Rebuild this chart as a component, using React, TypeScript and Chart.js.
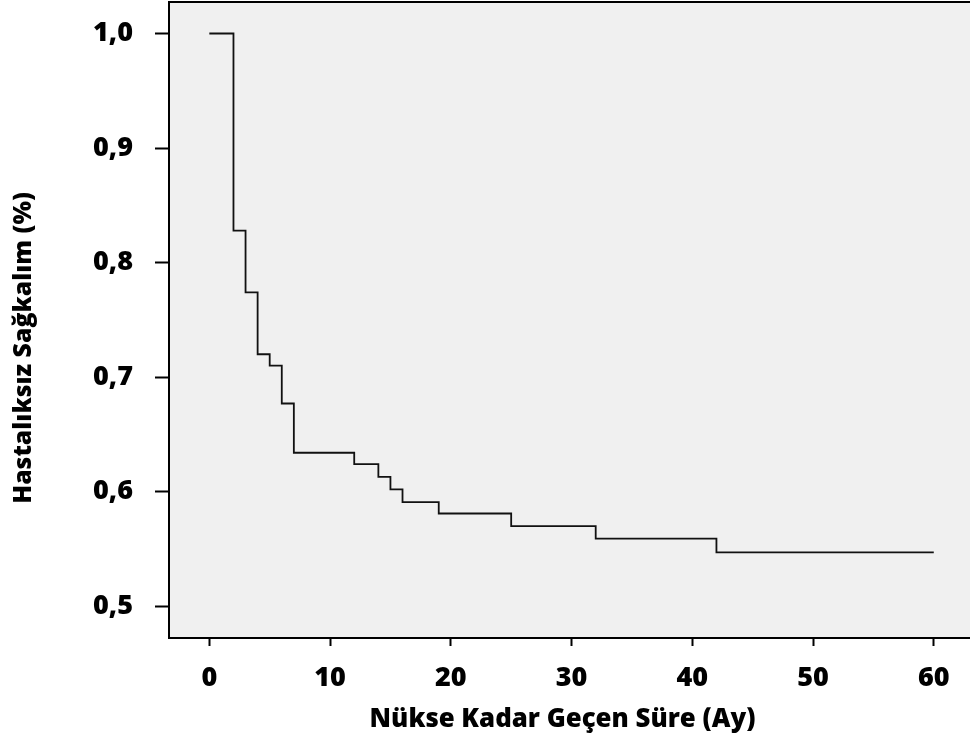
import { useEffect, useRef } from "react";
import { Chart, registerables } from "chart.js";

Chart.register(...registerables);

// Kaplan–Meier estimate: event times (months) and survival proportion after each event
const months = [0, 2, 3, 4, 5, 6, 7, 12, 14, 15, 16, 19, 25, 32, 42, 60];
const survival = [1.0, 0.828, 0.774, 0.72, 0.71, 0.677, 0.634, 0.624, 0.613, 0.602, 0.591, 0.581, 0.57, 0.559, 0.547, 0.547];

const xTicks = [0, 10, 20, 30, 40, 50, 60];
const yTicks = [0.5, 0.6, 0.7, 0.8, 0.9, 1.0];

const xTitle = "Nükse Kadar Geçen Süre (Ay)";
const yTitle = "Hastalıksız Sağkalım (%)";

const FONT_FAMILY = "'Open Sans', Lato, sans-serif";
const FONT_WEIGHT = 800;
const TICK_SIZE = 27;
const X_TITLE_SIZE = 25.8;
const Y_TITLE_SIZE = 24.8;

// Grey plot background plus a frame on the top, left and bottom edges
const framePlugin = {
  id: "frame",
  beforeDraw(chart: any) {
    const { ctx, chartArea: a } = chart;
    ctx.save();
    ctx.fillStyle = "#f0f0f0";
    ctx.fillRect(a.left, a.top, a.right - a.left, a.bottom - a.top);
    ctx.restore();
  },
  afterDraw(chart: any) {
    const { ctx, chartArea: a } = chart;
    ctx.save();
    ctx.strokeStyle = "#000";
    ctx.lineWidth = 2;
    ctx.beginPath();
    ctx.moveTo(a.right + 2, a.top);
    ctx.lineTo(a.left, a.top);
    ctx.lineTo(a.left, a.bottom);
    ctx.lineTo(a.right + 2, a.bottom);
    ctx.stroke();
    ctx.restore();
  },
};

// Axis captions placed relative to the plot area
const captionPlugin = {
  id: "captions",
  afterDraw(chart: any) {
    const { ctx, chartArea: a } = chart;
    ctx.save();
    ctx.fillStyle = "#000";
    ctx.textAlign = "center";
    ctx.textBaseline = "middle";
    ctx.font = `${FONT_WEIGHT} ${X_TITLE_SIZE}px ${FONT_FAMILY}`;
    ctx.fillText(xTitle, (a.left + a.right) / 2 - 7, a.bottom + 82);
    ctx.font = `${FONT_WEIGHT} ${Y_TITLE_SIZE}px ${FONT_FAMILY}`;
    ctx.translate(a.left - 145, (a.top + a.bottom) / 2 + 28);
    ctx.rotate(-Math.PI / 2);
    ctx.fillText(yTitle, 0, 0);
    ctx.restore();
  },
};

export default function App() {
  const canvasRef = useRef<HTMLCanvasElement | null>(null);

  useEffect(() => {
    if (!canvasRef.current) return;
    const tickFont = { family: FONT_FAMILY, size: TICK_SIZE, weight: FONT_WEIGHT as any };
    const chart = new Chart(canvasRef.current, {
      type: "line",
      data: {
        datasets: [
          {
            data: months.map((m, i) => ({ x: m, y: survival[i] })),
            stepped: "before",
            borderColor: "#111",
            borderWidth: 1.8,
            pointRadius: 0,
            fill: false,
          },
        ],
      },
      options: {
        animation: false,
        responsive: true,
        maintainAspectRatio: false,
        layout: { padding: { top: 2, right: 0, bottom: 0, left: 0 } },
        plugins: { legend: { display: false }, tooltip: { enabled: false } },
        scales: {
          x: {
            type: "linear",
            min: -3.34,
            max: 63.0,
            afterFit: (s: any) => {
              s.height = 109;
              s.paddingLeft = 0;
              s.paddingRight = 0;
            },
            afterBuildTicks: (s: any) => {
              s.ticks = xTicks.map((v) => ({ value: v }));
            },
            grid: { drawOnChartArea: false, drawTicks: true, tickLength: 8, tickWidth: 2, tickColor: "#000" },
            border: { display: false },
            ticks: { font: tickFont, color: "#000", padding: 16, maxRotation: 0, autoSkip: false },
          },
          y: {
            type: "linear",
            min: 0.4723,
            max: 1.0275,
            afterFit: (s: any) => {
              s.width = 169;
              s.paddingTop = 0;
              s.paddingBottom = 0;
            },
            afterBuildTicks: (s: any) => {
              s.ticks = yTicks.map((v) => ({ value: v }));
            },
            grid: { drawOnChartArea: false, drawTicks: true, tickLength: 14, tickWidth: 2, tickColor: "#000" },
            border: { display: false },
            ticks: {
              font: tickFont,
              color: "#000",
              padding: 22,
              callback: (v: any) => Number(v).toFixed(1).replace(".", ","),
            },
          },
        },
      },
      plugins: [framePlugin, captionPlugin],
    });
    return () => chart.destroy();
  }, []);

  return (
    <div style={{ position: "fixed", left: 0, top: 0, width: 970, height: 747, background: "#fff" }}>
      <canvas ref={canvasRef} />
    </div>
  );
}
